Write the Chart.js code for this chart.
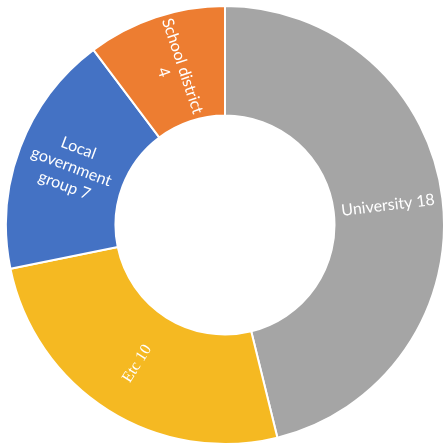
<!DOCTYPE html>
<html>
<head>
<meta charset="utf-8">
<script src="https://cdn.jsdelivr.net/npm/chart.js@4/dist/chart.umd.min.js"></script>
<style>
  html, body { margin: 0; padding: 0; background: #ffffff; }
  #wrap { width: 445px; height: 446px; position: relative; }
</style>
</head>
<body>
<div id="wrap"><canvas id="c"></canvas></div>
<script>
const categories = ["University", "Etc", "Local government group", "School district"];
const values = [18, 10, 7, 4];
const labelLines = [
  ["University 18"],
  ["Etc 10"],
  ["Local", "government", "group 7"],
  ["School district", "4"]
];
const colors = ["#A5A5A5", "#F5B922", "#4472C4", "#ED7D31"];
const labelFonts = [
  "16px Lato, 'Open Sans', sans-serif",
  "16px 'Liberation Serif', 'DejaVu Serif', serif",
  "16px Lato, 'Open Sans', sans-serif",
  "16px Lato, 'Open Sans', sans-serif"
];

const radialLabels = {
  id: 'radialLabels',
  afterDatasetsDraw(chart) {
    const ctx = chart.ctx;
    const meta = chart.getDatasetMeta(0);
    meta.data.forEach((arc, i) => {
      const p = arc.getProps(['x', 'y', 'startAngle', 'endAngle', 'innerRadius', 'outerRadius'], true);
      const a = (p.startAngle + p.endAngle) / 2;
      const r = (p.innerRadius + p.outerRadius) / 2;
      const x = p.x + Math.cos(a) * r;
      const y = p.y + Math.sin(a) * r;
      let rot = a;
      if (Math.cos(a) < 0) rot = a + Math.PI;
      const lines = labelLines[i];
      const lh = 20;
      ctx.save();
      ctx.translate(x, y);
      ctx.rotate(rot);
      ctx.fillStyle = '#ffffff';
      ctx.font = labelFonts[i];
      ctx.textAlign = 'center';
      ctx.textBaseline = 'middle';
      const start = -(lines.length - 1) * lh / 2;
      lines.forEach((ln, k) => ctx.fillText(ln, 0, start + k * lh));
      ctx.restore();
    });
  }
};

new Chart(document.getElementById('c'), {
  type: 'doughnut',
  data: {
    labels: categories,
    datasets: [{
      data: values,
      backgroundColor: colors,
      borderColor: '#ffffff',
      borderWidth: 2
    }]
  },
  options: {
    responsive: true,
    maintainAspectRatio: false,
    animation: false,
    cutout: '50%',
    rotation: 0,
    layout: { padding: { left: 5, right: 0, top: 5, bottom: 1 } },
    plugins: {
      legend: { display: false },
      tooltip: { enabled: false }
    }
  },
  plugins: [radialLabels]
});
</script>
</body>
</html>
